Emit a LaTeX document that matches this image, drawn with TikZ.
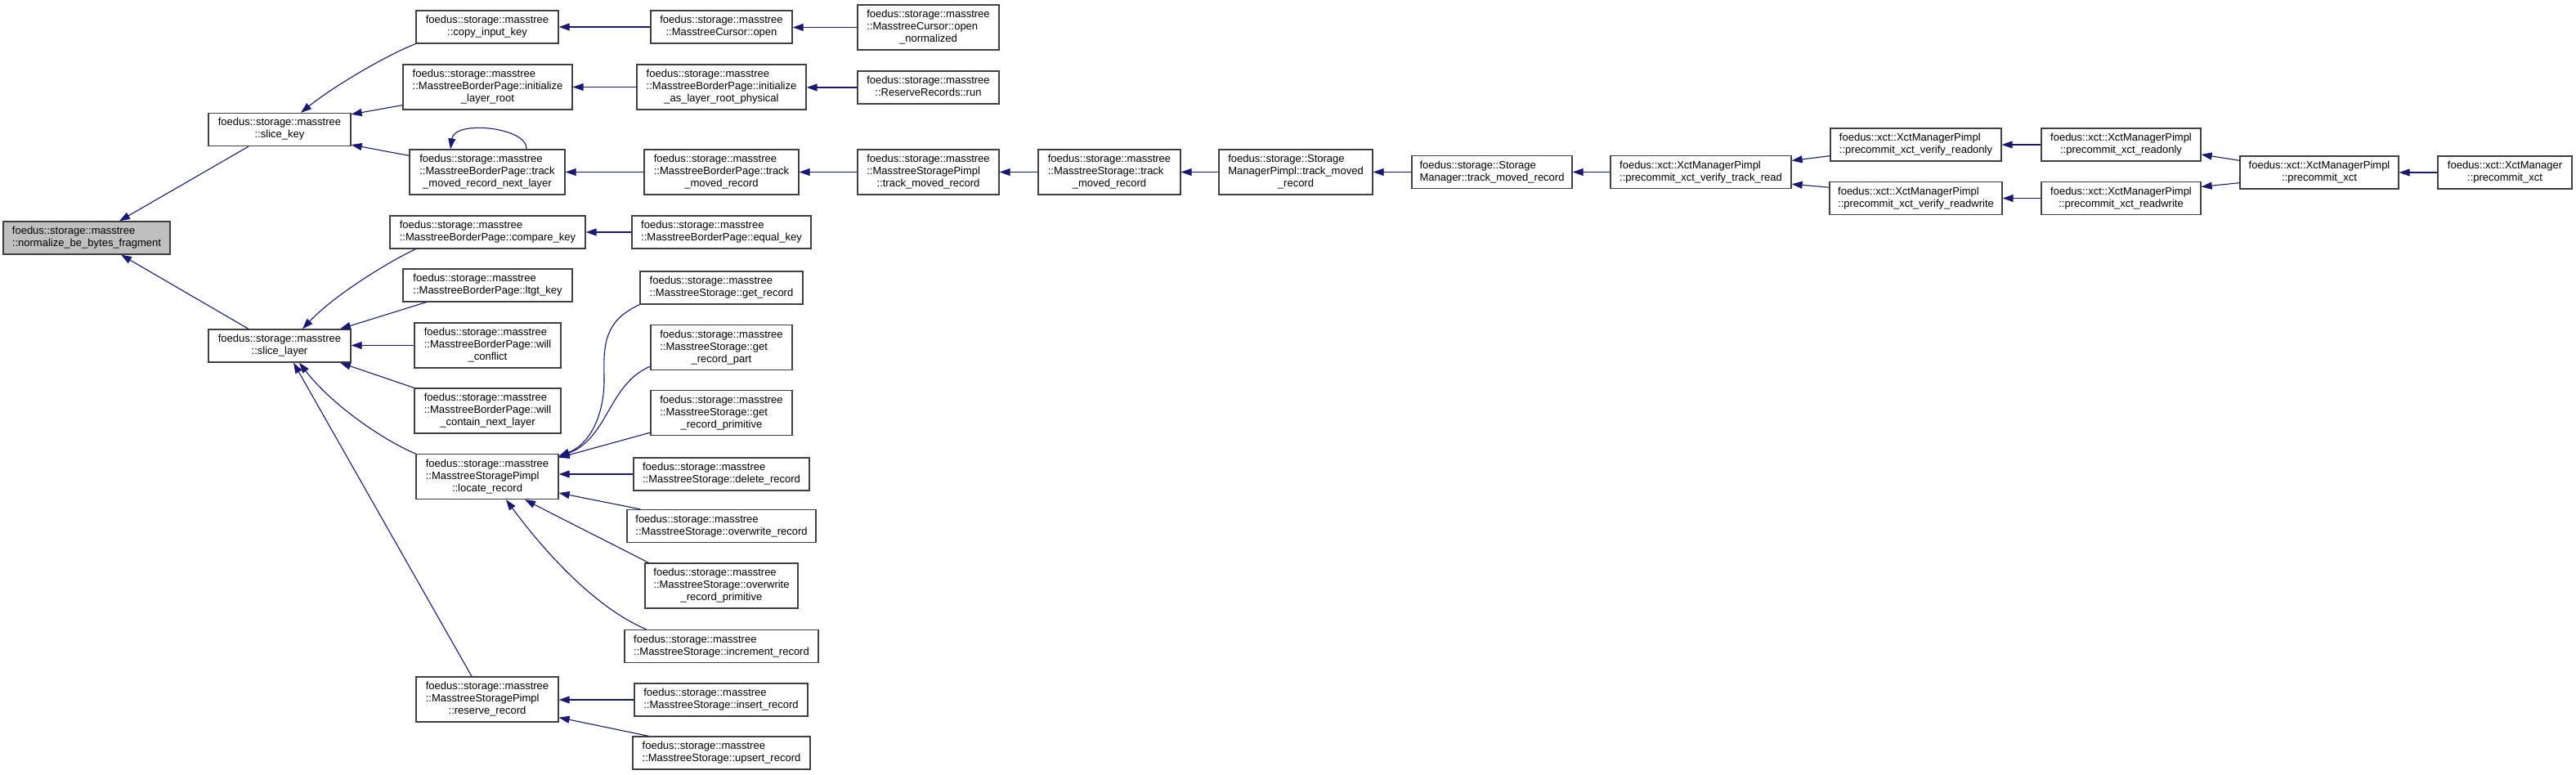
\documentclass[tikz,border=0pt]{standalone}
\usepackage{fontspec}
\setmainfont{Liberation Sans}
\usetikzlibrary{arrows.meta}
\definecolor{midnightblue}{HTML}{191970}
\definecolor{rootgray}{HTML}{BFBFBF}
\newcommand\fnl[2]{\begin{tabular}{@{}l@{}}#1\\\multicolumn{1}{@{}c@{}}{#2}\end{tabular}}
\begin{document}
\begin{tikzpicture}[x=1pt,y=-1pt,
	fn/.style={draw=black!75,fill=white,line width=0.65pt,inner sep=0pt,minimum height=20pt,minimum width=#1pt,font=\fontsize{6.5}{7.5}\selectfont},
	tall/.style={minimum height=27.5pt},
	call/.style={draw=midnightblue,line width=0.55pt,-{Triangle[length=6.5pt,width=4.5pt]}}]
		\useasboundingbox (0,0) rectangle (1575.5,473.5);
		\node[fn=102,fill=rootgray] (norm) at (53,145.5) {\fnl{foedus::storage::masstree}{::normalize\_be\_bytes\_fragment}};
		\node[fn=87] (skey) at (171,79.25) {\fnl{foedus::storage::masstree}{::slice\_key}};
		\node[fn=87] (slayer) at (171,211.5) {\fnl{foedus::storage::masstree}{::slice\_layer}};
		\node[fn=87] (copykey) at (298,16.5) {\fnl{foedus::storage::masstree}{::copy\_input\_key}};
		\node[fn=103.5,tall] (initroot) at (298.25,53.25) {\fnl{foedus::storage::masstree\\::MasstreeBorderPage::initialize}{\_layer\_root}};
		\node[fn=95,tall] (tracknext) at (298,105.25) {\fnl{foedus::storage::masstree\\::MasstreeBorderPage::track}{\_moved\_record\_next\_layer}};
		\node[fn=119.5] (cmpkey) at (298.25,142) {\fnl{foedus::storage::masstree}{::MasstreeBorderPage::compare\_key}};
		\node[fn=103.5] (ltgt) at (298.25,174.5) {\fnl{foedus::storage::masstree}{::MasstreeBorderPage::ltgt\_key}};
		\node[fn=89.5,tall] (conflict) at (298.25,211.25) {\fnl{foedus::storage::masstree\\::MasstreeBorderPage::will}{\_conflict}};
		\node[fn=89.5,tall] (contain) at (298.25,251.25) {\fnl{foedus::storage::masstree\\::MasstreeBorderPage::will}{\_contain\_next\_layer}};
		\node[fn=87,tall] (locate) at (298,291.5) {\fnl{foedus::storage::masstree\\::MasstreeStoragePimpl}{::locate\_record}};
		\node[fn=87,tall] (reserve) at (298,427.75) {\fnl{foedus::storage::masstree\\::MasstreeStoragePimpl}{::reserve\_record}};
		\node[fn=86.5] (cursoropen) at (441.25,16.5) {\fnl{foedus::storage::masstree}{::MasstreeCursor::open}};
		\node[fn=86.5,tall] (opennorm) at (567.75,16.75) {\fnl{foedus::storage::masstree\\::MasstreeCursor::open}{\_normalized}};
		\node[fn=103.5,tall] (initphys) at (441.25,53.25) {\fnl{foedus::storage::masstree\\::MasstreeBorderPage::initialize}{\_as\_layer\_root\_physical}};
		\node[fn=86.5] (rrrun) at (567.75,53.5) {\fnl{foedus::storage::masstree}{::ReserveRecords::run}};
		\node[fn=94.5,tall] (bptrack) at (441.25,105.25) {\fnl{foedus::storage::masstree\\::MasstreeBorderPage::track}{\_moved\_record}};
		\node[fn=109.5] (eqkey) at (441.25,142) {\fnl{foedus::storage::masstree}{::MasstreeBorderPage::equal\_key}};
		\node[fn=86.5,tall] (sptrack) at (567.75,105.25) {\fnl{foedus::storage::masstree\\::MasstreeStoragePimpl}{::track\_moved\_record}};
		\node[fn=87,tall] (mstrack) at (678.5,105.25) {\fnl{foedus::storage::masstree\\::MasstreeStorage::track}{\_moved\_record}};
		\node[fn=94,tall] (smptrack) at (792.5,105.25) {\fnl{foedus::storage::Storage\\ManagerPimpl::track\_moved}{\_record}};
		\node[fn=98] (smtrack) at (912.5,105.25) {\fnl{foedus::storage::Storage}{Manager::track\_moved\_record}};
		\node[fn=110.5] (vtrackread) at (1040.25,105.25) {\fnl{foedus::xct::XctManagerPimpl}{::precommit\_xct\_verify\_track\_read}};
		\node[fn=104.5] (vreadonly) at (1171.75,88.5) {\fnl{foedus::xct::XctManagerPimpl}{::precommit\_xct\_verify\_readonly}};
		\node[fn=105.5] (vreadwrite) at (1171.75,121.25) {\fnl{foedus::xct::XctManagerPimpl}{::precommit\_xct\_verify\_readwrite}};
		\node[fn=97.5] (pxreadonly) at (1297.25,88.5) {\fnl{foedus::xct::XctManagerPimpl}{::precommit\_xct\_readonly}};
		\node[fn=97.5] (pxreadwrite) at (1297.25,121.25) {\fnl{foedus::xct::XctManagerPimpl}{::precommit\_xct\_readwrite}};
		\node[fn=97] (pxct) at (1418.5,105.5) {\fnl{foedus::xct::XctManagerPimpl}{::precommit\_xct}};
		\node[fn=82] (xmpxct) at (1532,105.5) {\fnl{foedus::xct::XctManager}{::precommit\_xct}};
		\node[fn=99.5] (getrec) at (441.25,176) {\fnl{foedus::storage::masstree}{::MasstreeStorage::get\_record}};
		\node[fn=86.5,tall] (getpart) at (441.25,212.5) {\fnl{foedus::storage::masstree\\::MasstreeStorage::get}{\_record\_part}};
		\node[fn=86.5,tall] (getprim) at (441.25,252.5) {\fnl{foedus::storage::masstree\\::MasstreeStorage::get}{\_record\_primitive}};
		\node[fn=107.5] (delrec) at (441.25,290) {\fnl{foedus::storage::masstree}{::MasstreeStorage::delete\_record}};
		\node[fn=115.5] (owrec) at (441.25,321.75) {\fnl{foedus::storage::masstree}{::MasstreeStorage::overwrite\_record}};
		\node[fn=93.5,tall] (owprim) at (441.25,358.25) {\fnl{foedus::storage::masstree\\::MasstreeStorage::overwrite}{\_record\_primitive}};
		\node[fn=118.5] (increc) at (441.25,395.25) {\fnl{foedus::storage::masstree}{::MasstreeStorage::increment\_record}};
		\node[fn=106] (insrec) at (441,428) {\fnl{foedus::storage::masstree}{::MasstreeStorage::insert\_record}};
		\node[fn=108.5] (upsrec) at (441.25,460.5) {\fnl{foedus::storage::masstree}{::MasstreeStorage::upsert\_record}};
		\foreach \a/\b in {cursoropen/copykey,opennorm/cursoropen,initphys/initroot,rrrun/initphys,bptrack/tracknext,sptrack/bptrack,mstrack/sptrack,smptrack/mstrack,smtrack/smptrack,vtrackread/smtrack,pxreadonly/vreadonly,pxreadwrite/vreadwrite,xmpxct/pxct,eqkey/cmpkey,conflict/slayer,delrec/locate,insrec/reserve}
			\draw[call] (\a.west) -- (\b.east |- \a.west);
		\draw[call] ([xshift=-19pt]skey.south) -- ([xshift=20pt]norm.north);
		\draw[call] ([xshift=-19pt]slayer.north) -- ([xshift=21pt]norm.south);
		\draw[call] (copykey.south west) .. controls (238,33) and (205,52) .. ([xshift=13pt]skey.north);
		\draw[call] ([yshift=3pt]initroot.south west) -- ([yshift=-1pt]skey.north east);
		\draw[call] ([yshift=-4pt]tracknext.north west) -- ([yshift=1pt]skey.south east);
		\draw[call] ([xshift=24pt]tracknext.north) .. controls (323,78) and (278,73) .. ([xshift=-22.5pt]tracknext.north);
		\draw[call] ([xshift=16pt]cmpkey.south west) .. controls (238,160) and (205,180) .. ([xshift=14pt]slayer.north);
		\draw[call] ([xshift=14.5pt]ltgt.south west) -- ([xshift=37pt]slayer.north);
		\draw[call] (contain.north west) -- ([xshift=37pt]slayer.south);
		\draw[call] (locate.north west) .. controls (238,271) and (205,250) .. ([xshift=12pt]slayer.south);
		\draw[call] ([xshift=-9.5pt]reserve.north) -- ([xshift=8.5pt]slayer.south);
		\draw[call] ([yshift=3.5pt]vreadonly.south west) -- ([yshift=-3.3pt]vtrackread.north east);
		\draw[call] ([yshift=-3.7pt]vreadwrite.north west) -- ([yshift=3pt]vtrackread.south east);
		\draw[call] ([yshift=-3pt]pxct.north west) -- ([yshift=-6pt]pxreadonly.east);
		\draw[call] ([yshift=4pt]pxct.south west) -- ([yshift=7pt]pxreadwrite.east);
		\draw[call] (getrec.south west) .. controls (370,196) and (369,210) .. (369.5,230) .. controls (370,255) and (360,272) .. ([yshift=-1.5pt]locate.north east);
		\draw[call] ([yshift=2.5pt]getpart.south west) .. controls (372,235) and (372,268) .. ([yshift=-2pt]locate.north east);
		\draw[call] ([yshift=2pt]getprim.south west) -- ([yshift=-2.5pt]locate.north east);
		\draw[call] ([xshift=8.5pt]owrec.north west) -- ([yshift=-10pt]locate.east);
		\draw[call] ([xshift=2.5pt]owprim.north west) .. controls (375,333) and (345,318) .. ([xshift=23pt]locate.south);
		\draw[call] ([xshift=-46pt]increc.north) .. controls (365,372) and (335,340) .. ([xshift=11.5pt]locate.south);
		\draw[call] ([xshift=10pt]upsrec.north west) -- ([yshift=3pt]reserve.south east);
	\end{tikzpicture}
\end{document}
